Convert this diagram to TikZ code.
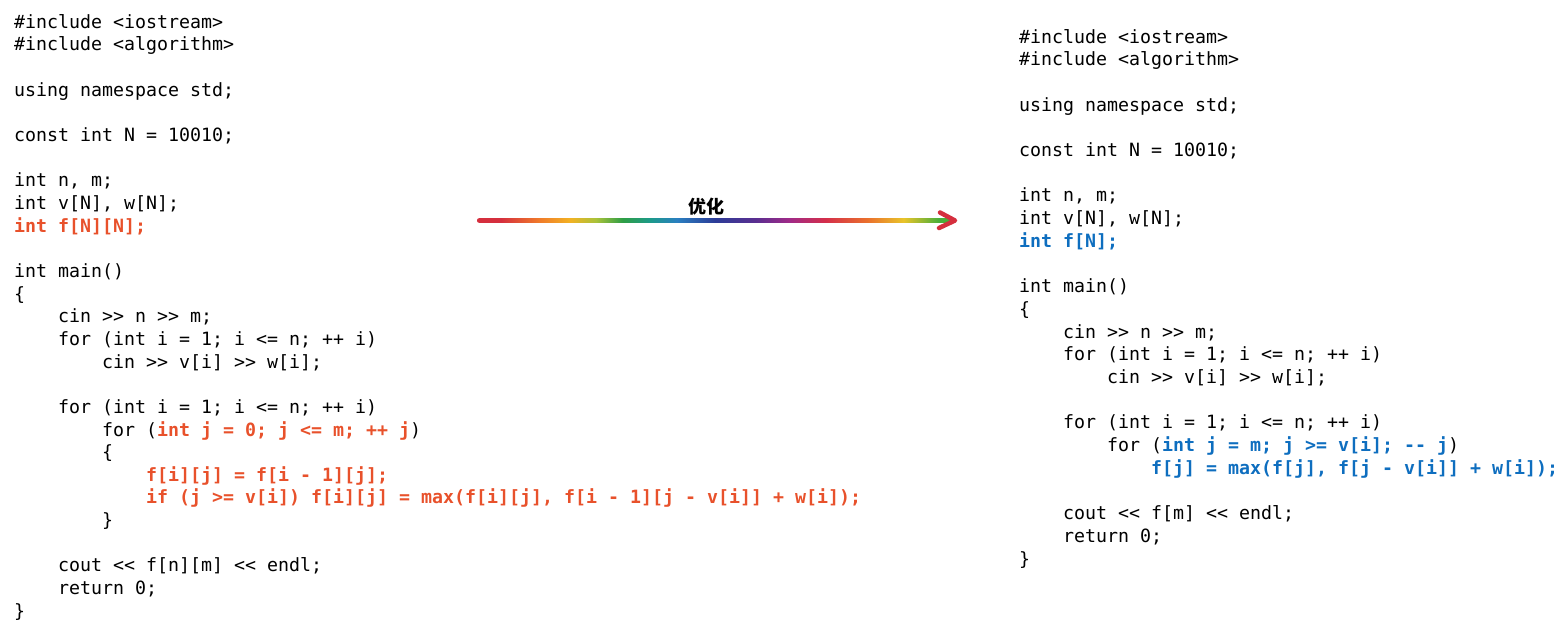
\documentclass[tikz,border=0pt]{standalone}
\usepackage{fontspec}
\setmonofont{DejaVu Sans Mono}
\newfontfamily\cjk{Noto Sans CJK SC}
\definecolor{hlred}{HTML}{E8512B}
\definecolor{hlblue}{HTML}{0E6EBF}
\definecolor{rbA}{HTML}{D52F3E}
\definecolor{rbB}{HTML}{F07A2A}
\definecolor{rbC}{HTML}{F2B223}
\definecolor{rbD}{HTML}{A9C23A}
\definecolor{rbE}{HTML}{2E9E45}
\definecolor{rbF}{HTML}{1C9A8A}
\definecolor{rbG}{HTML}{2A7FC0}
\definecolor{rbH}{HTML}{2C3C98}
\definecolor{rbI}{HTML}{5A2E90}
\definecolor{rbJ}{HTML}{A02A88}
\definecolor{rbK}{HTML}{D42E4A}
\definecolor{rbL}{HTML}{EA702C}
\definecolor{rbM}{HTML}{E9C42A}
\definecolor{rbN}{HTML}{4AAE3A}
\pgfdeclarehorizontalshading{rainbow}{100bp}{%
color(0bp)=(rbA); color(25bp)=(rbA); color(27.5bp)=(rbA);
color(31.5bp)=(rbB); color(34.8bp)=(rbC); color(37.5bp)=(rbD);
color(40.3bp)=(rbE); color(43.2bp)=(rbF); color(46bp)=(rbG);
color(50bp)=(rbH); color(54.3bp)=(rbI); color(57.8bp)=(rbJ);
color(61.6bp)=(rbK); color(66bp)=(rbL); color(69.8bp)=(rbM);
color(73.5bp)=(rbN); color(75bp)=(rbN); color(100bp)=(rbN)}
\tikzset{
  code/.style={anchor=base west, inner sep=0pt, font=\ttfamily\fontsize{18.27}{22}\selectfont, text=black},
}
\newcommand{\Rd}[1]{{\bfseries\color{hlred}#1}}
\newcommand{\Bl}[1]{{\bfseries\color{hlblue}#1}}
\begin{document}
\begin{tikzpicture}[x=1pt,y=-1pt]
\useasboundingbox (0,0) rectangle (1560,629);
% left code
\def\LB{28.3}\def\LS{22.65}
\node[code] (L1)  at (14, {\LB+0*\LS}) {\#include <iostream>};
\node[code] (L2)  at (14, {\LB+1*\LS}) {\#include <algorithm>};
\node[code] (L4)  at (14, {\LB+3*\LS}) {using namespace std;};
\node[code] (L6)  at (14, {\LB+5*\LS}) {const int N = 10010;};
\node[code] (L8)  at (14, {\LB+7*\LS}) {int n, m;};
\node[code] (L9)  at (14, {\LB+8*\LS}) {int v[N], w[N];};
\node[code] (L10) at (14, {\LB+9*\LS}) {\Rd{int f[N][N];}};
\node[code] (L12) at (14, {\LB+11*\LS}) {int main()};
\node[code] (L13) at (14, {\LB+12*\LS}) {\{};
\node[code] (L14) at (58, {\LB+13*\LS}) {cin >> n >> m;};
\node[code] (L15) at (58, {\LB+14*\LS}) {for (int i = 1; i <= n; ++ i)};
\node[code] (L16) at (102, {\LB+15*\LS}) {cin >> v[i] >> w[i];};
\node[code] (L18) at (58, {\LB+17*\LS}) {for (int i = 1; i <= n; ++ i)};
\node[code] (L19) at (102, {\LB+18*\LS}) {for (\Rd{int j = 0; j <= m; ++ j})};
\node[code] (L20) at (102, {\LB+19*\LS}) {\{};
\node[code] (L21) at (146, {\LB+20*\LS}) {\Rd{f[i][j] = f[i - 1][j];}};
\node[code] (L22) at (146, {\LB+21*\LS}) {\Rd{if (j >= v[i]) f[i][j] = max(f[i][j], f[i - 1][j - v[i]] + w[i]);}};
\node[code] (L23) at (102, {\LB+22*\LS}) {\}};
\node[code] (L25) at (58, {\LB+24*\LS}) {cout << f[n][m] << endl;};
\node[code] (L26) at (58, {\LB+25*\LS}) {return 0;};
\node[code] (L27) at (14, {\LB+26*\LS}) {\}};
% right code
\def\RB{43}\def\RS{22.7}
\node[code] (R1)  at (1019, {\RB+0*\RS}) {\#include <iostream>};
\node[code] (R2)  at (1019, {\RB+1*\RS}) {\#include <algorithm>};
\node[code] (R4)  at (1019, {\RB+3*\RS}) {using namespace std;};
\node[code] (R6)  at (1019, {\RB+5*\RS}) {const int N = 10010;};
\node[code] (R8)  at (1019, {\RB+7*\RS}) {int n, m;};
\node[code] (R9)  at (1019, {\RB+8*\RS}) {int v[N], w[N];};
\node[code] (R10) at (1019, {\RB+9*\RS}) {\Bl{int f[N];}};
\node[code] (R12) at (1019, {\RB+11*\RS}) {int main()};
\node[code] (R13) at (1019, {\RB+12*\RS}) {\{};
\node[code] (R14) at (1063, {\RB+13*\RS}) {cin >> n >> m;};
\node[code] (R15) at (1063, {\RB+14*\RS}) {for (int i = 1; i <= n; ++ i)};
\node[code] (R16) at (1107, {\RB+15*\RS}) {cin >> v[i] >> w[i];};
\node[code] (R18) at (1063, {\RB+17*\RS}) {for (int i = 1; i <= n; ++ i)};
\node[code] (R19) at (1107, {\RB+18*\RS}) {for (\Bl{int j = m; j >= v[i]; -- j})};
\node[code] (R20) at (1151, {\RB+19*\RS}) {\Bl{f[j] = max(f[j], f[j - v[i]] + w[i]);}};
\node[code] (R22) at (1063, {\RB+21*\RS}) {cout << f[m] << endl;};
\node[code] (R23) at (1063, {\RB+22*\RS}) {return 0;};
\node[code] (R24) at (1019, {\RB+23*\RS}) {\}};
% arrow
\coordinate (A1) at (477,220.5);
\coordinate (A2) at (953,220.5);
\shade[shading=rainbow, rounded corners=2pt] ([yshift=-2.3pt]A1) rectangle ([yshift=2.3pt]A2);
\draw[rbA, line width=4.5pt, line cap=round, line join=round]
  ([xshift=-14pt,yshift=-7.5pt]A2) -- ([xshift=2pt]A2) -- ([xshift=-13pt,yshift=8pt]A2);
\node[inner sep=0pt, font=\cjk\bfseries\fontsize{18}{20}\selectfont] (lab) at (706,207) {优化};
\end{tikzpicture}
\end{document}
